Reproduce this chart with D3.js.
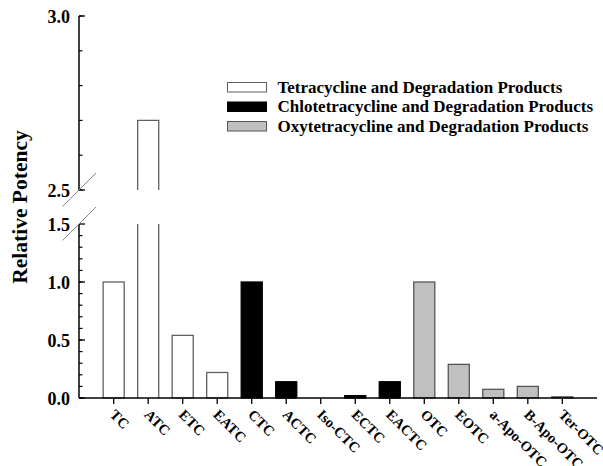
<!DOCTYPE html>
<html><head><meta charset="utf-8">
<script src="https://cdn.jsdelivr.net/npm/d3@7"></script>
<style>body{margin:0;background:#fff}svg{display:block}text{font-family:"Liberation Serif","Times New Roman",serif;font-weight:bold}</style>
</head><body><svg id="c" width="603" height="466"></svg>
<script>
const categories = ["TC","ATC","ETC","EATC","CTC","ACTC","Iso-CTC","ECTC","EACTC","OTC","EOTC","a-Apo-OTC","B-Apo-OTC","Ter-OTC"];
const values = [1.0, 2.7, 0.54, 0.22, 1.0, 0.14, 0, 0.02, 0.14, 1.0, 0.29, 0.075, 0.10, 0.01];
const groups = ["T","T","T","T","C","C","C","C","C","O","O","O","O","O"];
const legendLabels = ["Tetracycline and Degradation Products","Chlotetracycline and Degradation Products","Oxytetracycline and Degradation Products"];
const lowerTicks = [0, 0.5, 1.0, 1.5];
const upperTicks = [2.5, 3.0];
const fills = {T:"#ffffff", C:"#000000", O:"#c0c0c0"};
const strokes = {T:"#606060", C:"#000000", O:"#555555"};

const svg = d3.select("#c");
const x0 = 79, x1 = 597, yBase = 398;
const x = d3.scaleBand().domain(categories).range([x0, x1]).paddingInner(0.39).paddingOuter(0.70);
const yL = d3.scaleLinear().domain([0, 1.5]).range([yBase, 224]);
const yU = d3.scaleLinear().domain([2.5, 3.0]).range([190, 16]);
const breakLo = 1.5, breakHi = 2.5;

// bars
const g = svg.append("g");
categories.forEach((c, i) => {
  const v = values[i], grp = groups[i];
  if (v <= 0) return;
  const l = x(c), w = x.bandwidth(), r = l + w;
  if (v <= breakLo) {
    g.append("rect").attr("x", l).attr("y", yL(v)).attr("width", w).attr("height", yL(0) - yL(v))
      .attr("fill", fills[grp]).attr("stroke", strokes[grp]).attr("stroke-width", 1.3);
  } else {
    g.append("rect").attr("x", l).attr("y", yL(breakLo)).attr("width", w).attr("height", yL(0) - yL(breakLo)).attr("fill", fills[grp]);
    g.append("path").attr("d", `M${l},${yL(breakLo)}V${yL(0)}M${r},${yL(breakLo)}V${yL(0)}`)
      .attr("fill", "none").attr("stroke", strokes[grp]).attr("stroke-width", 1.3);
    g.append("rect").attr("x", l).attr("y", yU(v)).attr("width", w).attr("height", yU(breakHi) - yU(v)).attr("fill", fills[grp]);
    g.append("path").attr("d", `M${l},${yU(breakHi)}V${yU(v)}H${r}V${yU(breakHi)}`)
      .attr("fill", "none").attr("stroke", strokes[grp]).attr("stroke-width", 1.3);
  }
});

// x axis
svg.append("line").attr("x1", x0).attr("x2", x1).attr("y1", yBase).attr("y2", yBase).attr("stroke", "#000").attr("stroke-width", 1.5);
categories.forEach(c => {
  const cx = x(c) + x.bandwidth() / 2;
  svg.append("line").attr("x1", cx).attr("x2", cx).attr("y1", yBase).attr("y2", yBase + 6).attr("stroke", "#000").attr("stroke-width", 1.3);
  svg.append("text").attr("transform", `translate(${cx - 1},${yBase + 14}) rotate(45)`)
    .attr("font-size", 14.5).attr("dy", "0.35em").text(c);
});

// y axis segments
svg.append("line").attr("x1", x0).attr("x2", x0).attr("y1", yL(0)).attr("y2", yL(breakLo)).attr("stroke", "#000").attr("stroke-width", 1.5);
svg.append("line").attr("x1", x0).attr("x2", x0).attr("y1", yU(breakHi)).attr("y2", yU(3.0)).attr("stroke", "#000").attr("stroke-width", 1.5);
const minorL = d3.range(0, 15).map(d => d / 10);
const minorU = d3.range(25, 31).map(d => d / 10);
minorL.forEach(v => svg.append("line").attr("x1", x0).attr("x2", x0 + 3.5).attr("y1", yL(v)).attr("y2", yL(v)).attr("stroke", "#000").attr("stroke-width", 1.2));
minorU.forEach(v => svg.append("line").attr("x1", x0).attr("x2", x0 + 3.5).attr("y1", yU(v)).attr("y2", yU(v)).attr("stroke", "#000").attr("stroke-width", 1.2));
lowerTicks.forEach(v => {
  svg.append("line").attr("x1", x0).attr("x2", x0 + 6).attr("y1", yL(v)).attr("y2", yL(v)).attr("stroke", "#000").attr("stroke-width", 1.3);
  svg.append("text").attr("x", 70).attr("y", yL(v) + 1).attr("dy", "0.35em").attr("text-anchor", "end").attr("font-size", 18).text(v.toFixed(1));
});
upperTicks.forEach(v => {
  svg.append("line").attr("x1", x0).attr("x2", x0 + 6).attr("y1", yU(v)).attr("y2", yU(v)).attr("stroke", "#000").attr("stroke-width", 1.3);
  svg.append("text").attr("x", 70).attr("y", yU(v) + 1).attr("dy", "0.35em").attr("text-anchor", "end").attr("font-size", 18).text(v.toFixed(1));
});
// break marks
[yU(breakHi), yL(breakLo)].forEach(yy => {
  svg.append("line").attr("x1", x0 - 16.5).attr("y1", yy + 16.5).attr("x2", x0 + 17).attr("y2", yy - 17).attr("stroke", "#888").attr("stroke-width", 1);
});

// y title
svg.append("text").attr("transform", "translate(27,207) rotate(-90)").attr("text-anchor", "middle").attr("font-size", 21.5).text("Relative Potency");

// legend
const lg = svg.append("g");
["T","C","O"].forEach((k, i) => {
  const yy = 87 + i * 19.5;
  lg.append("rect").attr("x", 227.5).attr("y", yy - 4.5).attr("width", 39).attr("height", 9.5)
    .attr("fill", fills[k]).attr("stroke", strokes[k]).attr("stroke-width", 1);
  lg.append("text").attr("x", 277.5).attr("y", yy).attr("dy", "0.35em").attr("font-size", 17).text(legendLabels[i]);
});
</script></body></html>
